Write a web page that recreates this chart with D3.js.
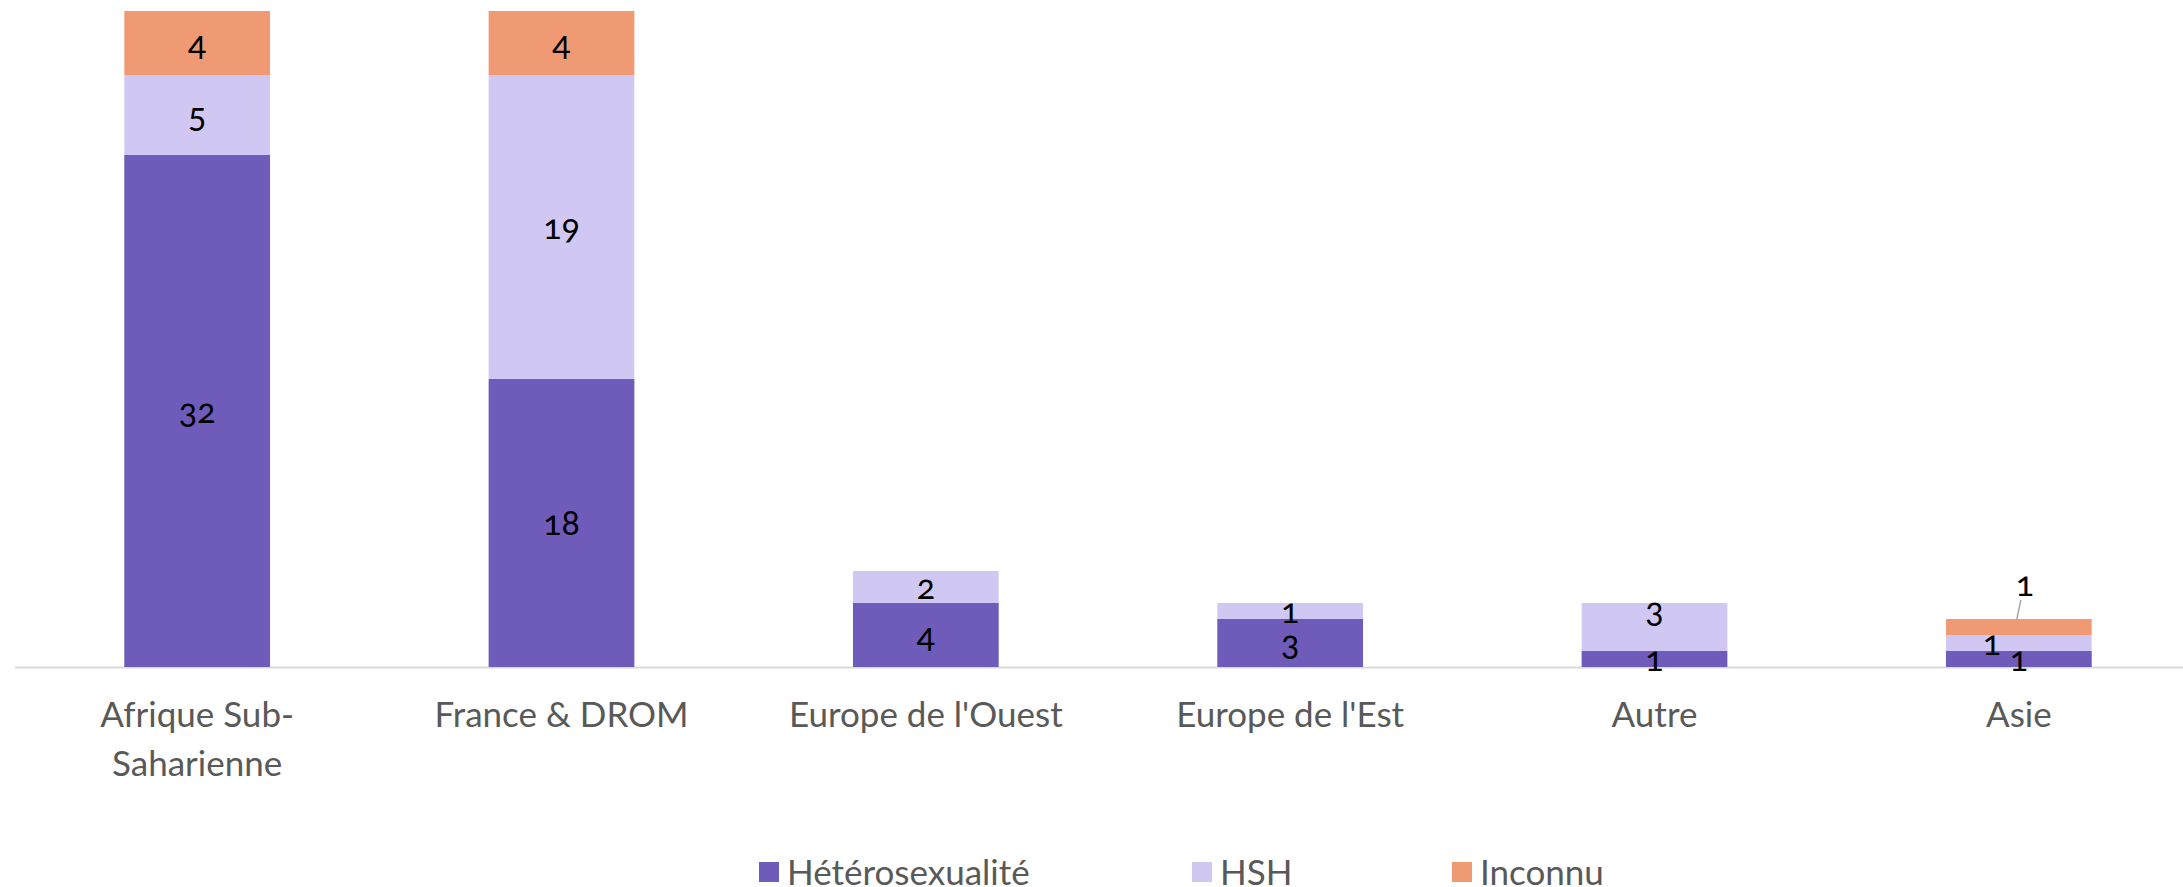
<!DOCTYPE html>
<html><head><meta charset="utf-8">
<script src="https://cdn.jsdelivr.net/npm/d3@7"></script>
<style>
html,body{margin:0;padding:0;background:#fff;}
svg{display:block;font-family:Lato,"Open Sans",sans-serif;}
</style></head>
<body><svg id="c" width="2183" height="887"></svg>
<script>
const categories = ["Afrique Sub-\nSaharienne","France & DROM","Europe de l'Ouest","Europe de l'Est","Autre","Asie"];
const seriesNames = ["Hétérosexualité","HSH","Inconnu"];
const heterosexualite = [32,18,4,3,1,1];
const hsh = [5,19,2,1,3,1];
const inconnu = [4,4,0,0,0,1];
const colors = ["#6F5BB9","#D0C8F2","#F09A74"];

// label nudges (layout only), keyed "catIndex-seriesIndex": [dx, dy]
const labelNudge = {"4-1":[0,-17],"5-1":[-27,0],"5-2":[6,-43]};

const W=2183,H=887;
const svg=d3.select("#c");
const x=d3.scaleBand().domain(d3.range(categories.length)).range([15,2201]).paddingInner(0.6).paddingOuter(0.3);
const y=d3.scaleLinear().domain([0,41]).range([667,11]);
const table=categories.map((c,i)=>({i,"Hétérosexualité":heterosexualite[i],"HSH":hsh[i],"Inconnu":inconnu[i]}));
const stack=d3.stack().keys(seriesNames)(table);

// axis line
svg.append("line").attr("x1",15).attr("x2",W).attr("y1",y(0)+0.5).attr("y2",y(0)+0.5)
  .attr("stroke","#D9D9D9").attr("stroke-width",2);

stack.forEach((s,si)=>{
  svg.append("g").selectAll("rect").data(s.filter(d=>d[1]-d[0]>0)).join("rect")
    .attr("x",d=>x(d.data.i)).attr("width",x.bandwidth())
    .attr("y",d=>y(d[1])).attr("height",d=>y(d[0])-y(d[1]))
    .attr("fill",colors[si]);
});
stack.forEach((s,si)=>{
  s.forEach(d=>{
    const v=d[1]-d[0]; if(v<=0) return;
    const key=d.data.i+"-"+si; const n=labelNudge[key]||[0,0];
    const cx=x(d.data.i)+x.bandwidth()/2+n[0];
    const cy=(y(d[0])+y(d[1]))/2+n[1];
    if(key==="5-2"){
      svg.append("line").attr("x1",x(d.data.i)+x.bandwidth()/2-2).attr("y1",y(d[1]))
        .attr("x2",cx-4).attr("y2",y(d[1])-19).attr("stroke","#A6A6A6").attr("stroke-width",1.5);
    }
    svg.append("text").attr("x",cx).attr("y",cy).attr("dy","0.35em")
      .attr("text-anchor","middle").attr("font-size",34).attr("fill","#000")
      .style("font-feature-settings","'onum'").text(v);
  });
});

// category labels
categories.forEach((c,i)=>{
  const t=svg.append("text").attr("text-anchor","middle").attr("font-size",35).attr("fill","#595959");
  c.split("\n").forEach((ln,k)=>{
    t.append("tspan").attr("x",x(i)+x.bandwidth()/2).attr("y",727+k*49).text(ln);
  });
});

// legend
const legX=[759,1192,1452];
seriesNames.forEach((s,i)=>{
  svg.append("rect").attr("x",legX[i]).attr("y",862).attr("width",20).attr("height",20).attr("fill",colors[i]);
  svg.append("text").attr("x",legX[i]+28).attr("y",885).attr("font-size",35).attr("fill","#595959").text(s);
});
</script></body></html>
